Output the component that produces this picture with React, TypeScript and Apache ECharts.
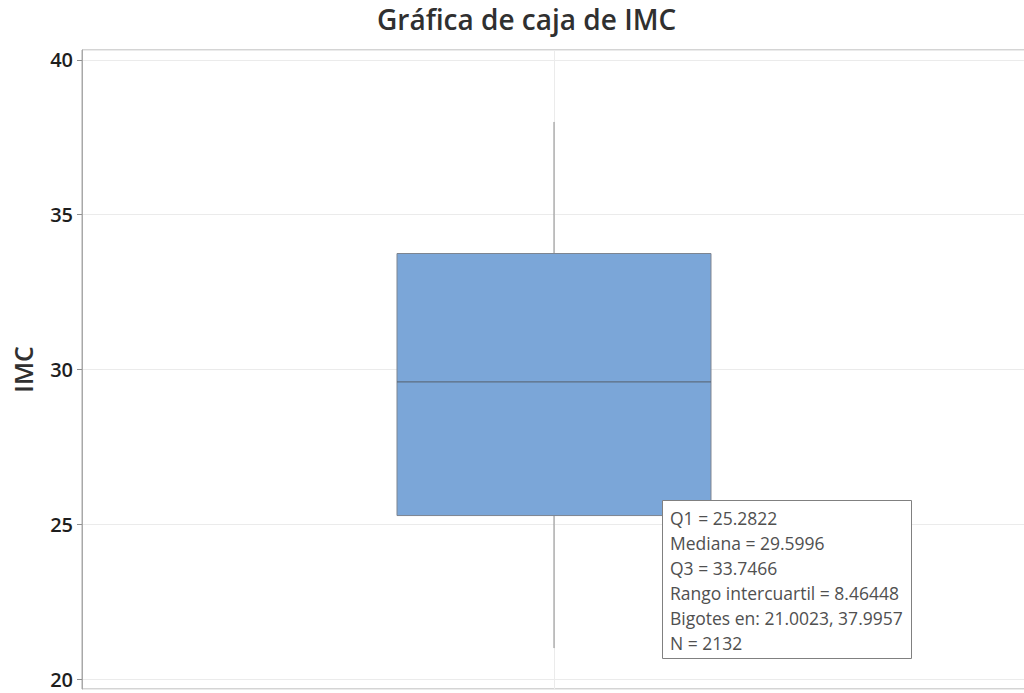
import React, { useEffect, useRef } from "react";
import * as echarts from "echarts";

const categories = ["IMC"];
// [bigote inferior, Q1, mediana, Q3, bigote superior]
const boxStats = [21.0023, 25.2822, 29.5996, 33.7466, 37.9957];
const iqrValue = 8.46448;
const sampleSize = 2132;
const yMin = 19.68;
const yMax = 40.32;

const titleText = "Gráfica de caja de IMC";
const yAxisName = "IMC";

export default function App() {
  const ref = useRef<HTMLDivElement>(null);

  useEffect(() => {
    if (!ref.current) return;
    const chart = echarts.init(ref.current, undefined, { renderer: "svg" });
    const infoLines = [
      `Q1 = ${boxStats[1]}`,
      `Mediana = ${boxStats[2]}`,
      `Q3 = ${boxStats[3]}`,
      `Rango intercuartil = ${iqrValue}`,
      `Bigotes en: ${boxStats[0]}, ${boxStats[4]}`,
      `N = ${sampleSize}`,
    ];
    const font = "'Open Sans', 'Noto Sans', sans-serif";
    chart.setOption({
      animation: false,
      backgroundColor: "#ffffff",
      title: {
        text: titleText,
        left: 372,
        top: 0,
        textStyle: {
          fontFamily: font,
          fontSize: 28,
          fontWeight: 600,
          color: "#303030",
        },
      },
      grid: {
        left: 82,
        right: 6,
        top: 50,
        bottom: 4,
        show: true,
        borderColor: "#a8a8a8",
        borderWidth: 1,
        backgroundColor: "transparent",
      },
      xAxis: [
        {
          type: "category",
          data: categories,
          boundaryGap: true,
          axisLine: { show: false },
          axisTick: { show: false },
          axisLabel: { show: false },
          splitLine: { show: false },
        },
        {
          type: "value",
          min: 0,
          max: 2,
          interval: 1,
          position: "top",
          axisLine: { show: false },
          axisTick: { show: false },
          axisLabel: { show: false },
          splitLine: { show: true, lineStyle: { color: "#ebebeb", width: 1 } },
        },
      ],
      yAxis: {
        type: "value",
        min: yMin,
        max: yMax,
        splitNumber: 4,
        name: yAxisName,
        nameLocation: "middle",
        nameGap: 47,
        nameTextStyle: {
          fontFamily: font,
          fontSize: 25,
          fontWeight: 600,
          color: "#303030",
        },
        axisLine: { show: true, lineStyle: { color: "#a8a8a8" } },
        axisTick: { show: true, length: 5, lineStyle: { color: "#909090" } },
        axisLabel: {
          showMinLabel: false,
          showMaxLabel: false,
          margin: 9,
          fontFamily: font,
          fontSize: 20,
          fontWeight: 600,
          color: "#1e1e1e",
        },
        splitLine: { show: true, lineStyle: { color: "#ebebeb", width: 1 } },
      },
      series: [
        {
          type: "custom",
          xAxisIndex: 0,
          yAxisIndex: 0,
          z: 2,
          encode: { x: 0, y: [1, 2, 3, 4, 5] },
          data: [[0, ...boxStats]],
          renderItem: (params: any, api: any) => {
            const x = api.value(0);
            const low = api.coord([x, api.value(1)]);
            const q1 = api.coord([x, api.value(2)]);
            const med = api.coord([x, api.value(3)]);
            const q3 = api.coord([x, api.value(4)]);
            const high = api.coord([x, api.value(5)]);
            const bw = api.size([1, 0])[0] * 0.3326;
            const cx = low[0];
            const left = cx - bw / 2;
            return {
              type: "group",
              children: [
                {
                  type: "line",
                  shape: { x1: cx, y1: low[1], x2: cx, y2: q1[1] },
                  style: { stroke: "#8c8c8c", lineWidth: 1 },
                },
                {
                  type: "line",
                  shape: { x1: cx, y1: q3[1], x2: cx, y2: high[1] },
                  style: { stroke: "#8c8c8c", lineWidth: 1 },
                },
                {
                  type: "rect",
                  shape: { x: left, y: q3[1], width: bw, height: q1[1] - q3[1] },
                  style: { fill: "#7ba6d8", stroke: "#7d8590", lineWidth: 1 },
                },
                {
                  type: "line",
                  shape: { x1: left, y1: med[1], x2: left + bw, y2: med[1] },
                  style: { stroke: "#56606c", lineWidth: 1 },
                },
              ],
            };
          },
        },
      ],
      graphic: [
        {
          type: "rect",
          z: 100,
          shape: { x: 662.5, y: 500.5, width: 249, height: 158 },
          style: { fill: "#ffffff", stroke: "#808080", lineWidth: 1 },
        },
        {
          type: "text",
          z: 101,
          x: 670,
          y: 505,
          style: {
            text: infoLines.join("\n"),
            fontFamily: font,
            fontSize: 17.5,
            lineHeight: 25,
            fill: "#505050",
          },
        },
      ],
    });
    return () => chart.dispose();
  }, []);

  return (
    <div
      style={{
        position: "fixed",
        left: 0,
        top: 0,
        width: 1024,
        height: 693,
        overflow: "hidden",
        background: "#fff",
      }}
    >
      <div ref={ref} style={{ width: 1032, height: 693 }} />
    </div>
  );
}
